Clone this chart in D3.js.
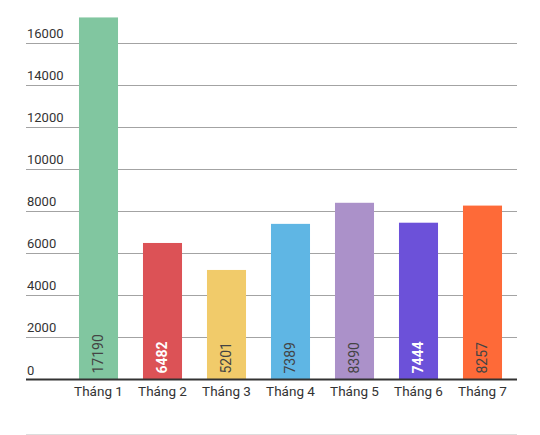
<!DOCTYPE html>
<html>
<head>
<meta charset="utf-8">
<script src="https://cdn.jsdelivr.net/npm/d3@7"></script>
<style>
  body { margin: 0; background: #fff; }
  svg { font-family: Roboto, "Noto Sans", sans-serif; }
</style>
</head>
<body>
<svg id="chart" width="540" height="435"></svg>
<script>
const months = ['Tháng 1', 'Tháng 2', 'Tháng 3', 'Tháng 4', 'Tháng 5', 'Tháng 6', 'Tháng 7'];
const values = [17190, 6482, 5201, 7389, 8390, 7444, 8257];
const colors = ['#81c6a0', '#dc5256', '#f1cb6a', '#5fb6e4', '#ab91c9', '#6c51d9', '#fe6a38'];
const whiteLabel = [false, true, false, false, false, true, false];
const yTicks = [0, 2000, 4000, 6000, 8000, 10000, 12000, 14000, 16000];

const svg = d3.select('#chart');
const left = 26, right = 517, baseY = 379.5;

const x = d3.scaleBand()
  .domain(months)
  .range([66.5, 514.5])
  .paddingInner(0.39)
  .paddingOuter(0.195);

const y = d3.scaleLinear()
  .domain([0, 16000])
  .range([baseY, 42.5]);

// grid lines + tick labels
const grid = svg.append('g');
grid.selectAll('line')
  .data(yTicks.slice(1))
  .join('line')
  .attr('x1', left)
  .attr('x2', right)
  .attr('y1', d => Math.round(y(d)) + 0.5)
  .attr('y2', d => Math.round(y(d)) + 0.5)
  .attr('stroke', '#a3a3a3')
  .attr('stroke-width', 1);

grid.selectAll('text')
  .data(yTicks)
  .join('text')
  .attr('x', left + 1)
  .attr('y', d => y(d) - 5)
  .attr('font-size', 13)
  .attr('fill', '#333')
  .text(d => d);

// bars
const bars = svg.append('g');
bars.selectAll('rect')
  .data(values)
  .join('rect')
  .attr('x', (d, i) => x(months[i]))
  .attr('width', x.bandwidth())
  .attr('y', d => y(d))
  .attr('height', d => baseY - y(d))
  .attr('fill', (d, i) => colors[i]);

// value labels, rotated
bars.selectAll('text')
  .data(values)
  .join('text')
  .attr('transform', (d, i) => {
    const cx = x(months[i]) + x.bandwidth() / 2 + 4.5;
    return 'translate(' + cx + ',' + (baseY - 6) + ') rotate(-90)';
  })
  .attr('font-size', 14)
  .attr('font-weight', (d, i) => whiteLabel[i] ? 'bold' : 'normal')
  .attr('fill', (d, i) => whiteLabel[i] ? '#fff' : '#444')
  .text(d => d);

// baseline
svg.append('line')
  .attr('x1', left)
  .attr('x2', right)
  .attr('y1', baseY)
  .attr('y2', baseY)
  .attr('stroke', '#333')
  .attr('stroke-width', 2);

// x axis labels
const xAxis = d3.axisBottom(x).tickSize(0).tickPadding(6);
svg.append('g')
  .attr('transform', 'translate(0,' + (baseY + 1) + ')')
  .call(xAxis)
  .call(g => g.select('.domain').remove())
  .selectAll('text')
  .attr('font-size', 13.5)
  .attr('font-family', 'Roboto, sans-serif')
  .attr('fill', '#333');

// bottom divider
svg.append('line')
  .attr('x1', left)
  .attr('x2', right)
  .attr('y1', 434.5)
  .attr('y2', 434.5)
  .attr('stroke', '#dddddd')
  .attr('stroke-width', 1);
</script>
</body>
</html>
